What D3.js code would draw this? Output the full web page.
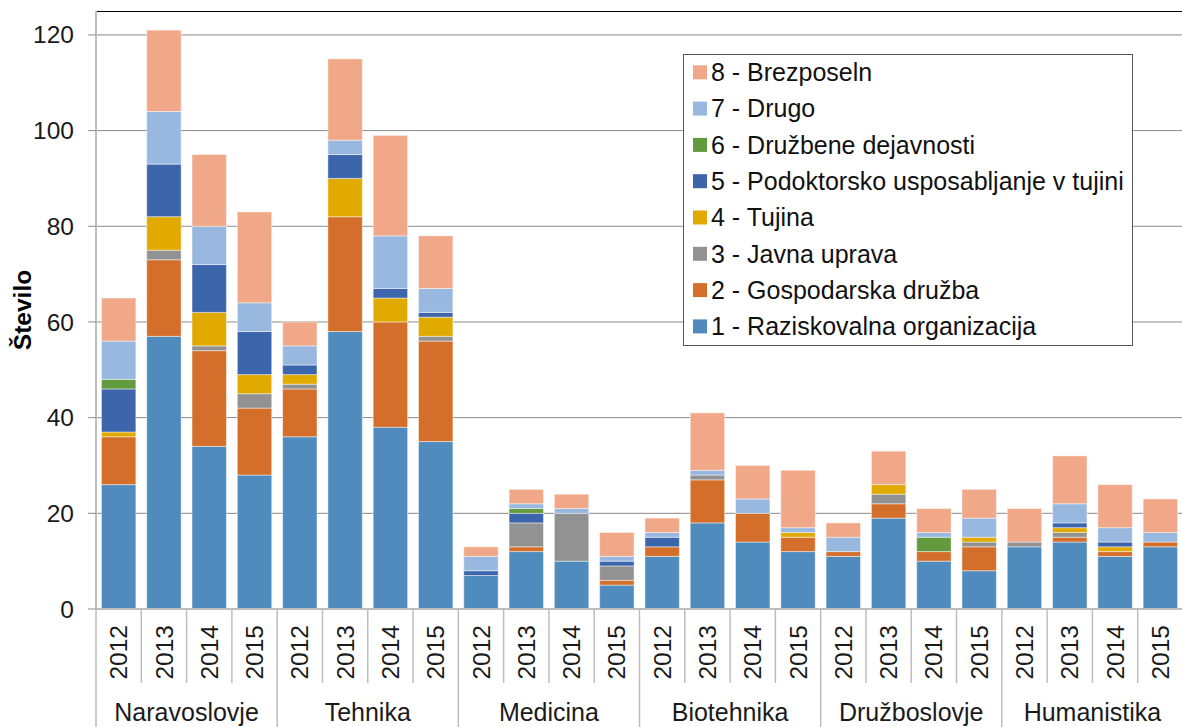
<!DOCTYPE html>
<html>
<head>
<meta charset="utf-8">
<script src="https://cdn.jsdelivr.net/npm/d3@7"></script>
<style>
  body { margin: 0; background: #fff; }
  svg { display: block; font-family: "Liberation Sans", Arial, sans-serif; }
</style>
</head>
<body>
<svg id="chart" width="1182" height="727"></svg>
<script>
// podatki
const groups = ["Naravoslovje", "Tehnika", "Medicina", "Biotehnika", "Družboslovje", "Humanistika"];
const years = ["2012", "2013", "2014", "2015"];
const seriesNames = [
  "1 - Raziskovalna organizacija",
  "2 - Gospodarska družba",
  "3 - Javna uprava",
  "4 - Tujina",
  "5 - Podoktorsko usposabljanje v tujini",
  "6 - Družbene dejavnosti",
  "7 - Drugo",
  "8 - Brezposeln",
];
const s1 = [26, 57, 34, 28, 36, 58, 38, 35, 7, 12, 10, 5, 11, 18, 14, 12, 11, 19, 10, 8, 13, 14, 11, 13];
const s2 = [10, 16, 20, 14, 10, 24, 22, 21, 0, 1, 0, 1, 2, 9, 6, 3, 1, 3, 2, 5, 0, 1, 1, 1];
const s3 = [0, 2, 1, 3, 1, 0, 0, 1, 0, 5, 10, 3, 0, 1, 0, 0, 0, 2, 0, 1, 1, 1, 0, 0];
const s4 = [1, 7, 7, 4, 2, 8, 5, 4, 0, 0, 0, 0, 0, 0, 0, 1, 0, 2, 0, 1, 0, 1, 1, 0];
const s5 = [9, 11, 10, 9, 2, 5, 2, 1, 1, 2, 0, 1, 2, 0, 0, 0, 0, 0, 0, 0, 0, 1, 1, 0];
const s6 = [2, 0, 0, 0, 0, 0, 0, 0, 0, 1, 0, 0, 0, 0, 0, 0, 0, 0, 3, 0, 0, 0, 0, 0];
const s7 = [8, 11, 8, 6, 4, 3, 11, 5, 3, 1, 1, 1, 1, 1, 3, 1, 3, 0, 1, 4, 0, 4, 3, 2];
const s8 = [9, 17, 15, 19, 5, 17, 21, 11, 2, 3, 3, 5, 3, 12, 7, 12, 3, 7, 5, 6, 7, 10, 9, 7];
const yTicks = [0, 20, 40, 60, 80, 100, 120];
const colors = ["#508bbe", "#d36f2a", "#929292", "#e1aa00", "#3c65ac", "#629a3e", "#98b8df", "#f0a889"];

const allSeries = [s1, s2, s3, s4, s5, s6, s7, s8];

// tabela za stack
const rows = [];
groups.forEach((g, gi) => {
  years.forEach((yr, yi) => {
    const idx = gi * years.length + yi;
    const row = { id: g + "|" + yr, group: g, year: yr };
    seriesNames.forEach((s, si) => { row[s] = allSeries[si][idx]; });
    rows.push(row);
  });
});

const svg = d3.select("#chart");
const plotLeft = 96, plotRight = 1183, plotTop = 11, plotBottom = 609;

const x = d3.scaleBand()
  .domain(rows.map((d) => d.id))
  .range([plotLeft, plotRight])
  .paddingInner(0.24)
  .paddingOuter(0.12);
const step = x.step();

const y = d3.scaleLinear().domain([0, 125]).range([plotBottom, plotTop]);

// mreža
svg.append("g")
  .selectAll("line")
  .data(yTicks.filter((t) => t > 0))
  .enter()
  .append("line")
  .attr("x1", plotLeft).attr("x2", 1182)
  .attr("y1", (d) => y(d)).attr("y2", (d) => y(d))
  .attr("stroke", "#8a8a8a")
  .attr("stroke-width", 1);

// zgornja obroba
svg.append("line")
  .attr("x1", plotLeft).attr("x2", 1182)
  .attr("y1", plotTop + 0.5).attr("y2", plotTop + 0.5)
  .attr("stroke", "#000").attr("stroke-width", 1);

// stolpci
const stack = d3.stack().keys(seriesNames);
const layers = stack(rows);

svg.append("g")
  .selectAll("g")
  .data(layers)
  .enter()
  .append("g")
  .attr("fill", (d, i) => colors[i])
  .selectAll("rect")
  .data((d) => d.filter((p) => p[1] - p[0] > 0))
  .enter()
  .append("rect")
  .attr("x", (d) => x(d.data.id))
  .attr("width", x.bandwidth())
  .attr("y", (d) => y(d[1]))
  .attr("height", (d) => y(d[0]) - y(d[1]))
  .attr("stroke", "#fff")
  .attr("stroke-opacity", 0.45)
  .attr("stroke-width", 1);

// os y
const yAxis = svg.append("g");
yAxis.append("line")
  .attr("x1", plotLeft).attr("x2", plotLeft)
  .attr("y1", plotTop).attr("y2", plotBottom)
  .attr("stroke", "#bdbdbd").attr("stroke-width", 2);
yAxis.selectAll("line.tick")
  .data(yTicks)
  .enter()
  .append("line")
  .attr("class", "tick")
  .attr("x1", 88).attr("x2", plotLeft)
  .attr("y1", (d) => y(d)).attr("y2", (d) => y(d))
  .attr("stroke", "#8a8a8a");
yAxis.selectAll("text")
  .data(yTicks)
  .enter()
  .append("text")
  .attr("x", 74)
  .attr("y", (d) => y(d))
  .attr("dy", "0.35em")
  .attr("text-anchor", "end")
  .attr("font-size", "24.5px")
  .attr("fill", "#1a1a1a")
  .text((d) => d);

svg.append("text")
  .attr("transform", "translate(22,310) rotate(-90)")
  .attr("text-anchor", "middle")
  .attr("dy", "0.35em")
  .attr("font-size", "24.5px")
  .attr("font-weight", "bold")
  .text("Število");

// os x
const xAxis = svg.append("g");
xAxis.append("line")
  .attr("x1", plotLeft).attr("x2", 1182)
  .attr("y1", plotBottom).attr("y2", plotBottom)
  .attr("stroke", "#bdbdbd").attr("stroke-width", 2);

xAxis.selectAll("line.sep")
  .data(rows)
  .enter()
  .append("line")
  .attr("class", "sep")
  .attr("x1", (d) => x(d.id) - (step - x.bandwidth()) / 2)
  .attr("x2", (d) => x(d.id) - (step - x.bandwidth()) / 2)
  .attr("y1", plotBottom)
  .attr("y2", (d) => (d.year === years[0] ? 727 : 683))
  .attr("stroke", "#bdbdbd")
  .attr("stroke-width", 1.5);

xAxis.selectAll("text.year")
  .data(rows)
  .enter()
  .append("text")
  .attr("class", "year")
  .attr("transform", (d) => `translate(${x(d.id) + x.bandwidth() / 2},625) rotate(-90)`)
  .attr("text-anchor", "end")
  .attr("dy", "0.35em")
  .attr("font-size", "24.5px")
  .attr("fill", "#1a1a1a")
  .text((d) => d.year);

xAxis.selectAll("text.group")
  .data(groups)
  .enter()
  .append("text")
  .attr("class", "group")
  .attr("x", (g) => {
    const first = x(g + "|" + years[0]);
    const last = x(g + "|" + years[years.length - 1]);
    return (first + last + x.bandwidth()) / 2;
  })
  .attr("y", 721)
  .attr("text-anchor", "middle")
  .attr("font-size", "25px")
  .attr("fill", "#1a1a1a")
  .text((g) => g);

// legenda
const legend = svg.append("g");
legend.append("rect")
  .attr("x", 683.5).attr("y", 54.5)
  .attr("width", 449).attr("height", 291)
  .attr("fill", "#fff")
  .attr("stroke", "#555").attr("stroke-width", 1);

const legendItems = seriesNames.map((s, i) => ({ name: s, color: colors[i] })).reverse();
const li = legend.selectAll("g.item")
  .data(legendItems)
  .enter()
  .append("g")
  .attr("class", "item")
  .attr("transform", (d, i) => `translate(0,${72.3 + i * 36.3})`);
li.append("rect")
  .attr("x", 693).attr("y", -7)
  .attr("width", 14).attr("height", 14)
  .attr("fill", (d) => d.color);
li.append("text")
  .attr("x", 711)
  .attr("dy", "0.35em")
  .attr("font-size", "25px")
  .attr("fill", "#111")
  .text((d) => d.name);
</script>
</body>
</html>
